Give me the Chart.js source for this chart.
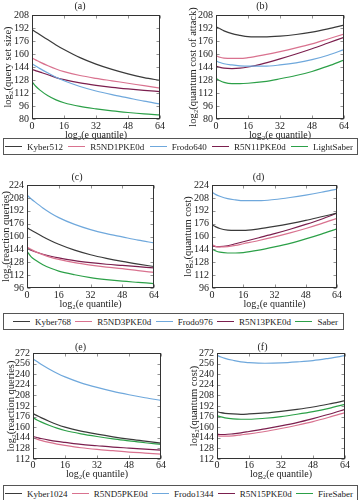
<!DOCTYPE html>
<html><head><meta charset="utf-8">
<script src="https://cdn.jsdelivr.net/npm/chart.js@4"></script>
<style>
html,body{margin:0;padding:0;background:#fff;}
body{width:360px;height:500px;position:relative;overflow:hidden;font-family:"Liberation Serif","DejaVu Serif",serif;}
canvas{position:absolute;}
.legend{position:absolute;height:17px;box-sizing:border-box;border:1px solid #555;display:flex;align-items:center;justify-content:space-between;font-size:9px;color:#222;}
.item{display:flex;align-items:center;white-space:nowrap;}
.swatch{display:inline-block;width:17px;height:0;border-top:1.2px solid;margin-right:5px;}
</style></head>
<body>
<canvas id="ca" width="180" height="141" style="left:0;top:0"></canvas>
<canvas id="cb" width="180" height="141" style="left:180px;top:0"></canvas>
<div class="legend" id="lg1" style="left:3px;top:138px;width:355px;padding:0 4px 0 1px"></div>
<canvas id="cc" width="180" height="145" style="left:0;top:165px"></canvas>
<canvas id="cd" width="180" height="145" style="left:180px;top:165px"></canvas>
<div class="legend" id="lg2" style="left:3px;top:313px;width:341px;padding:0 5px 0 9px"></div>
<canvas id="ce" width="180" height="145" style="left:0;top:335px"></canvas>
<canvas id="cf" width="180" height="145" style="left:180px;top:335px"></canvas>
<div class="legend" id="lg3" style="left:3px;top:485px;width:355px;padding:0 4px 0 1px"></div>
<script>
// ---------------- data ----------------
const quantileX = [0, 2, 4, 8, 12, 16, 24, 32, 40, 48, 56, 64];
const xTickValues = [0, 16, 32, 48, 64];
const yTicksAB = [80, 96, 112, 128, 144, 160, 176, 192, 208];
const yTicksCD = [96, 112, 128, 144, 160, 176, 192, 208, 224];
const yTicksEF = [112, 128, 144, 160, 176, 192, 208, 224, 240, 256, 272];

const namesLevel1 = ['Kyber512', 'R5ND1PKE0d', 'Frodo640', 'R5N11PKE0d', 'LightSaber'];
const namesLevel3 = ['Kyber768', 'R5ND3PKE0d', 'Frodo976', 'R5N13PKE0d', 'Saber'];
const namesLevel5 = ['Kyber1024', 'R5ND5PKE0d', 'Frodo1344', 'R5N15PKE0d', 'FireSaber'];
const seriesColors = ['#3a3a3a', '#d9728f', '#6fa8dc', '#7b1f4e', '#2ca048'];

// (a) log2(query set size)
const a_Kyber512   = [190, 186.8, 183.6, 177.4, 171.2, 165.5, 155.5, 147.5, 141, 135.5, 131, 127.5];
const a_R5ND1PKE0d = [155, 152.5, 150, 145.5, 141.5, 138.3, 133.5, 130, 127, 124, 121, 118];
const a_Frodo640   = [148, 145, 142, 136.5, 131.3, 127, 120, 114.5, 110, 106, 102, 98.5];
const a_R5N11PKE0d = [141, 139.3, 137.7, 134.5, 131, 128.5, 124.5, 121.5, 119, 117, 115.3, 113.8];
const a_LightSaber = [126, 120, 115.5, 108.5, 103.5, 100, 95.5, 92.5, 90, 88, 86.3, 85];
// (b) log2(quantum cost of attack)
const b_Kyber512   = [193.5, 191, 188.5, 185, 183, 181.5, 181, 182, 184, 187, 191, 195.5];
const b_R5ND1PKE0d = [158, 156, 155, 154.5, 154.5, 155.5, 159, 163, 167.5, 172.5, 178.5, 184.5];
const b_Frodo640   = [151.5, 149.5, 148, 146.5, 145.5, 145, 145, 146.5, 149, 153, 158.5, 165.5];
const b_R5N11PKE0d = [145, 143.5, 142.5, 142, 142.5, 144, 148.5, 154, 160, 166.5, 173.5, 180.5];
const b_LightSaber = [130, 127, 125, 123.5, 123.5, 124, 126, 129.5, 133.5, 138.5, 145, 152.5];
// (c) log2(reaction queries)
const c_Kyber768   = [171, 168, 165.2, 159.8, 154.8, 150.3, 143, 137.3, 132.8, 129, 125.7, 122.7];
const c_R5ND3PKE0d = [147, 144, 141.5, 137.5, 134, 131.5, 127.5, 124.5, 122, 120, 117.5, 115.5];
const c_Frodo976   = [211.5, 207, 203, 195.5, 189, 183.5, 175, 168.5, 163.5, 159.5, 155.5, 152];
const c_R5N13PKE0d = [145.5, 143, 141, 138, 135.5, 133.5, 130, 127.5, 125.5, 124, 122.5, 121];
const c_Saber      = [141.5, 135, 131, 125, 120.5, 117, 112.5, 109, 106.5, 104.5, 103, 101.5];
// (d) log2(quantum cost)
const d_Kyber768   = [174.5, 172, 170, 168, 167.5, 167.5, 169.5, 172.5, 176, 180, 184.5, 189];
const d_R5ND3PKE0d = [150, 147.5, 147, 147.5, 149, 151, 155, 159.5, 164.5, 170, 176, 182.5];
const d_Frodo976   = [215, 212, 210, 207, 205.5, 204.5, 204.5, 206, 208.5, 211.5, 215, 219];
const d_R5N13PKE0d = [148.5, 147.5, 147.5, 148.5, 151, 153.5, 158.5, 163.5, 169, 175, 181.5, 189];
const d_Saber      = [144.5, 142, 140.5, 139.5, 139.5, 140, 143, 147, 151.5, 157, 163, 169.5];
// (e) log2(reaction queries)
const e_Kyber1024  = [180.5, 177.5, 174.5, 169, 164, 160, 154, 149.5, 145.5, 142, 139, 136];
const e_R5ND5PKE0d = [144, 142, 140, 137, 134.5, 132.5, 129, 126.5, 124.5, 122.5, 121, 119.5];
const e_Frodo1344  = [263, 259, 255, 248, 241.5, 236, 227, 220, 214, 209, 204.5, 200.5];
const e_R5N15PKE0d = [146, 144.5, 143, 140.5, 138.5, 137, 134, 132, 130, 128.5, 127, 125.5];
const e_FireSaber  = [174.5, 171, 168, 163, 158.5, 155, 150, 146, 142.5, 139.5, 136.5, 134];
// (f) log2(quantum cost)
const f_Kyber1024  = [183.5, 182, 181, 180, 179.5, 180, 181.5, 184, 187, 190.5, 195, 200];
const f_R5ND5PKE0d = [147, 146.5, 146.5, 147, 148.5, 150, 153.5, 158, 163, 168.5, 175, 182];
const f_Frodo1344  = [268.5, 266, 264, 261, 258.5, 257.5, 256.5, 257, 258.5, 260.5, 264, 268];
const f_R5N15PKE0d = [149.5, 149, 149, 150, 151.5, 153.5, 157.5, 162, 167, 173, 179.5, 187];
const f_FireSaber  = [177.5, 175.5, 174, 172.5, 172, 172, 173.5, 176, 179.5, 183.5, 188.5, 194.5];

// ---------------- rendering ----------------
const FONT = '"Liberation Serif","DejaVu Serif",serif';
const axisBox = {
  id: 'axisBox',
  afterDatasetsDraw(chart) {
    const ctx = chart.ctx;
    const ca = chart.chartArea;
    const l = Math.round(ca.left) + 0.5, r = Math.round(ca.right) - 0.5;
    const t = Math.round(ca.top) + 0.5, b = Math.round(ca.bottom) - 0.5;
    const xs = chart.scales.x, ys = chart.scales.y;
    const L = 3;
    ctx.save();
    ctx.strokeStyle = '#777'; ctx.lineWidth = 0.8;
    ctx.beginPath();
    xs.ticks.forEach(tk => {
      const p = Math.round(xs.getPixelForValue(tk.value)) + 0.5;
      ctx.moveTo(p, b); ctx.lineTo(p, b - L);
      ctx.moveTo(p, t); ctx.lineTo(p, t + L);
    });
    ys.ticks.forEach(tk => {
      const p = Math.round(ys.getPixelForValue(tk.value)) + 0.5;
      ctx.moveTo(l, p); ctx.lineTo(l + L, p);
      ctx.moveTo(r, p); ctx.lineTo(r - L, p);
    });
    ctx.stroke();
    ctx.strokeStyle = '#333'; ctx.lineWidth = 1;
    ctx.strokeRect(l, t, r - l, b - t);
    ctx.restore();
  }
};

function makeChart(id, cfg) {
  const datasets = cfg.series.map((vals, i) => ({
    label: cfg.names[i],
    data: quantileX.map((x, k) => ({ x: x, y: vals[k] })),
    borderColor: seriesColors[i],
    backgroundColor: seriesColors[i],
    borderWidth: 1.2,
    pointRadius: 0,
    fill: false,
    cubicInterpolationMode: 'monotone'
  }));
  return new Chart(document.getElementById(id), {
    type: 'line',
    data: { datasets },
    plugins: [axisBox],
    options: {
      responsive: false,
      animation: false,
      events: [],
      layout: { padding: { left: 0, right: cfg.rightPad, top: 0, bottom: 0 } },
      plugins: {
        legend: { display: false },
        tooltip: { enabled: false },
        title: {
          display: true, text: cfg.title, color: '#222',
          font: { family: FONT, size: 10, weight: 'normal', lineHeight: 1.2 },
          padding: cfg.titlePad
        }
      },
      scales: {
        x: {
          type: 'linear', min: 0, max: 64,
          afterBuildTicks: s => { s.ticks = xTickValues.map(v => ({ value: v })); },
          afterFit: s => { s.height = cfg.xAxisH; },
          grid: { display: false, drawTicks: false },
          border: { display: false },
          ticks: { color: '#222', padding: cfg.xTickPad, maxRotation: 0, autoSkip: false, font: { family: FONT, size: 10 } },
          title: { display: true, text: 'log₂(e quantile)', color: '#222', padding: { top: 0, bottom: 0 },
                   font: { family: FONT, size: 10, lineHeight: 1.2 } }
        },
        y: {
          type: 'linear', min: cfg.yTicks[0], max: cfg.yTicks[cfg.yTicks.length - 1],
          afterBuildTicks: s => { s.ticks = cfg.yTicks.map(v => ({ value: v })); },
          afterFit: s => { s.width = cfg.yAxisW; },
          grid: { display: false, drawTicks: false },
          border: { display: false },
          ticks: { color: '#222', padding: 3, autoSkip: false, font: { family: FONT, size: 10 } },
          title: { display: true, text: cfg.yTitle, color: '#222', padding: { top: cfg.yTitlePad, bottom: 0 },
                   font: { family: FONT, size: 10.5, lineHeight: 1.2 } }
        }
      }
    }
  });
}

makeChart('ca', { title: '(a)', names: namesLevel1, yTicks: yTicksAB, yTitle: 'log₂(query set size)',
  series: [a_Kyber512, a_R5ND1PKE0d, a_Frodo640, a_R5N11PKE0d, a_LightSaber],
  rightPad: 20, yAxisW: 32, yTitlePad: 2, xAxisH: 22, xTickPad: 1, titlePad: { top: 0, bottom: 3 } });
makeChart('cb', { title: '(b)', names: namesLevel1, yTicks: yTicksAB, yTitle: 'log₂(quantum cost of attack)',
  series: [b_Kyber512, b_R5ND1PKE0d, b_Frodo640, b_R5N11PKE0d, b_LightSaber],
  rightPad: 16, yAxisW: 36, yTitlePad: 7, xAxisH: 22, xTickPad: 1, titlePad: { top: 0, bottom: 3 } });
makeChart('cc', { title: '(c)', names: namesLevel3, yTicks: yTicksCD, yTitle: 'log₂(reaction queries)',
  series: [c_Kyber768, c_R5ND3PKE0d, c_Frodo976, c_R5N13PKE0d, c_Saber],
  rightPad: 26, yAxisW: 27, yTitlePad: 0, xAxisH: 22, xTickPad: 1, titlePad: { top: 6, bottom: 2 } });
makeChart('cd', { title: '(d)', names: namesLevel3, yTicks: yTicksCD, yTitle: 'log₂(quantum cost)',
  series: [d_Kyber768, d_R5ND3PKE0d, d_Frodo976, d_R5N13PKE0d, d_Saber],
  rightPad: 23, yAxisW: 32, yTitlePad: 2, xAxisH: 22, xTickPad: 1, titlePad: { top: 6, bottom: 2 } });
makeChart('ce', { title: '(e)', names: namesLevel5, yTicks: yTicksEF, yTitle: 'log₂(reaction queries)',
  series: [e_Kyber1024, e_R5ND5PKE0d, e_Frodo1344, e_R5N15PKE0d, e_FireSaber],
  rightPad: 19, yAxisW: 33, yTitlePad: 5, xAxisH: 21, xTickPad: 0, titlePad: { top: 6, bottom: 0 } });
makeChart('cf', { title: '(f)', names: namesLevel5, yTicks: yTicksEF, yTitle: 'log₂(quantum cost)',
  series: [f_Kyber1024, f_R5ND5PKE0d, f_Frodo1344, f_R5N15PKE0d, f_FireSaber],
  rightPad: 15, yAxisW: 37, yTitlePad: 8, xAxisH: 21, xTickPad: 0, titlePad: { top: 6, bottom: 0 } });

function buildLegend(id, names) {
  const el = document.getElementById(id);
  names.forEach((n, i) => {
    const it = document.createElement('span'); it.className = 'item';
    const sw = document.createElement('span'); sw.className = 'swatch'; sw.style.borderTopColor = seriesColors[i];
    it.appendChild(sw); it.appendChild(document.createTextNode(n));
    el.appendChild(it);
  });
}
buildLegend('lg1', namesLevel1);
buildLegend('lg2', namesLevel3);
buildLegend('lg3', namesLevel5);
</script>
</body></html>
